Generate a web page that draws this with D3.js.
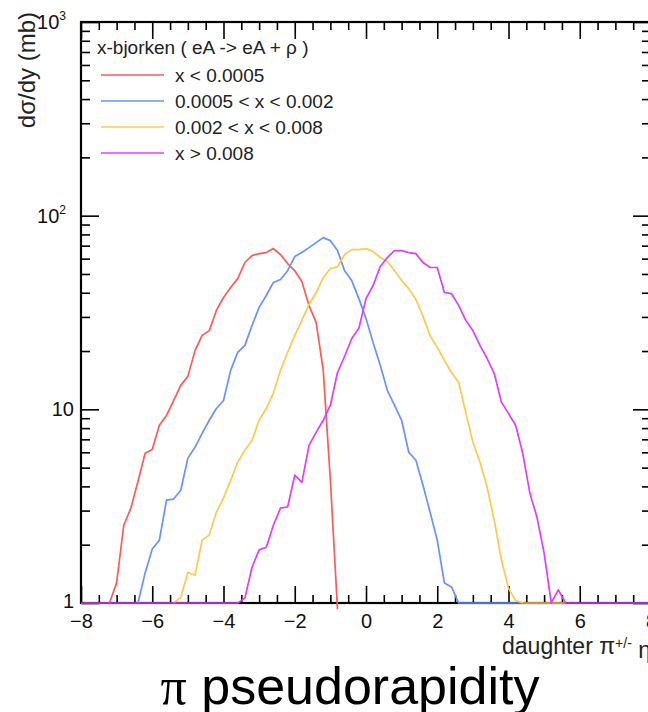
<!doctype html>
<html lang="en">
<head>
<meta charset="UTF-8">
<title>daughter pion pseudorapidity</title>
<style>
  body { margin: 0; background: #fff; }
  svg { display: block; font-family: "Liberation Sans", Arial, sans-serif; }
</style>
</head>
<body>
<svg id="chart" width="648" height="712"></svg>
<script src="https://cdn.jsdelivr.net/npm/d3@7/dist/d3.min.js"></script>
<script>
    // histogram bins, width 0.2 in eta, each series starts at its own bin
    const binWidth = 0.2;

    const labels = ["x < 0.0005", "0.0005 < x < 0.002", "0.002 < x < 0.008", "x > 0.008"];
    const colors = ["#ff5a5a", "#6a92ff", "#ffc94d", "#dc3fff"];
    const starts = [-7.2, -6.4, -5.4, -8.0];

    const redVals = [1.0, 1.27, 2.52, 3.09, 4.25, 5.93, 6.2, 8.27, 9.3, 11.1,
        13.3, 14.8, 20.1, 24.1, 25.5, 32.4, 37.8, 42.6, 47.3, 57.3,
        62.2, 63.7, 64.5, 67.6, 63, 56.6, 52, 45.7, 34.4, 28.1,
        15.9, 4.3, 0.93];
    const blueVals = [1.0, 1.43, 1.9, 2.11, 3.4, 3.44, 3.82, 5.6, 6.37, 7.52,
        8.78, 10.1, 11.1, 15.9, 19.7, 21.4, 27.1, 33.6, 38.7, 45.2,
        46.8, 52, 61.5, 64.5, 68.4, 72.6, 77, 74.3, 66, 52,
        46.2, 37.3, 29.4, 22.1, 16.9, 12.5, 10.5, 8.78, 6.0, 5.46,
        4.06, 2.94, 2.11, 1.27, 1.21, 1.0,
        1, 1, 1, 1, 1, 1, 1, 1, 1];
    const yellowVals = [1.0, 1.07, 1.44, 1.39, 2.11, 2.24, 2.94, 3.48, 4.3, 5.33,
        6.15, 6.92, 8.78, 10.1, 12.1, 15.9, 19.7, 24, 28.8, 34.8,
        40.1, 47.9, 53.3, 54.6, 63, 66.8, 66.8, 67.6, 65.2, 60.8,
        58, 52, 46.2, 42, 36.9, 30.2, 24, 20.9, 17.9, 15.5,
        13.8, 9.65, 6.76, 5.33, 3.96, 2.68, 1.67, 1.19, 1.03, 1.0,
        1, 1, 1, 1, 1, 1];
    const magentaVals = [1, 1, 1, 1, 1, 1, 1, 1, 1, 1, 1, 1, 1, 1, 1, 1, 1, 1, 1, 1, 1, 1, 1,
        1.06, 1.53, 1.88, 1.94, 2.52, 3.09, 3.13, 4.57, 4.2, 6.52,
        7.6, 8.78, 10.5, 15.5, 18.8, 23.2, 26.2, 37.3, 43.6, 54.6,
        60.8, 66, 66, 64.5, 63.7, 57.3, 54, 54, 40.1, 39.6,
        34.4, 28.8, 25.5, 21.4, 18.3, 15.3, 10.9, 9.53, 8.27, 5.93,
        3.69, 2.77, 1.81, 1.0, 1.17, 1.0,
        1, 1, 1, 1, 1, 1, 1, 1, 1, 1, 1, 1];

    const seriesVals = [redVals, blueVals, yellowVals, magentaVals];

    const xMajor = [-8, -6, -4, -2, 0, 2, 4, 6, 8];
    const xMinor = [-7.5, -7, -6.5, -5.5, -5, -4.5, -3.5, -3, -2.5, -1.5, -1, -0.5,
        0.5, 1, 1.5, 2.5, 3, 3.5, 4.5, 5, 5.5, 6.5, 7, 7.5];
    const yMajor = [1, 10, 100, 1000];
    const yMinor = [2, 3, 4, 5, 6, 7, 8, 9, 20, 30, 40, 50, 60, 70, 80, 90,
        200, 300, 400, 500, 600, 700, 800, 900];

    let svg = d3.select("#chart"),
        margin = {top: 22, right: -3, bottom: 109, left: 81},
        width = +svg.attr("width"),
        height = +svg.attr("height");

    let x = d3.scaleLinear()
        .domain([-8, 8])
        .range([margin.left, width - margin.right]);

    let y = d3.scaleLog()
        .domain([1, 1000])
        .range([height - margin.bottom, margin.top]);

    const x0 = x.range()[0], x1 = x.range()[1];
    const y0 = y.range()[0], y1 = y.range()[1];

    function styleAxis(g) {
        g.select(".domain").remove();
        g.selectAll(".tick line").attr("stroke", "#000").attr("stroke-width", 1.6);
    }

    // bottom axis with labels
    svg.append("g")
        .attr("transform", "translate(0," + y0 + ")")
        .call(d3.axisBottom(x).tickValues(xMajor).tickSizeInner(-17).tickSizeOuter(0).tickPadding(11))
        .call(styleAxis)
        .attr("font-size", "20px")
        .attr("font-family", "Liberation Sans, Arial, sans-serif")
        .selectAll("text").attr("fill", "#111");
    svg.append("g")
        .attr("transform", "translate(0," + y0 + ")")
        .call(d3.axisBottom(x).tickValues(xMinor).tickSizeInner(-8).tickSizeOuter(0).tickFormat(""))
        .call(styleAxis);

    // top axis
    svg.append("g")
        .attr("transform", "translate(0," + y1 + ")")
        .call(d3.axisTop(x).tickValues(xMajor).tickSizeInner(-17).tickSizeOuter(0).tickFormat(""))
        .call(styleAxis);
    svg.append("g")
        .attr("transform", "translate(0," + y1 + ")")
        .call(d3.axisTop(x).tickValues(xMinor).tickSizeInner(-8).tickSizeOuter(0).tickFormat(""))
        .call(styleAxis);

    // left axis with labels
    let leftAxis = svg.append("g")
        .attr("transform", "translate(" + x0 + ",0)")
        .call(d3.axisLeft(y).tickValues(yMajor).tickSizeInner(-18).tickSizeOuter(0).tickPadding(7)
            .tickFormat(d => d < 100 ? String(d) : "10"))
        .call(styleAxis)
        .attr("font-size", "20px")
        .attr("font-family", "Liberation Sans, Arial, sans-serif");
    leftAxis.selectAll("text").attr("fill", "#111");
    leftAxis.selectAll(".tick").filter(d => d === 1).select("text").attr("dy", "0.2em");
    leftAxis.selectAll(".tick").filter(d => d >= 100).select("text")
        .attr("dx", "-0.4em")
        .append("tspan")
        .attr("dy", "-0.75em")
        .attr("font-size", "12px")
        .text(d => Math.round(Math.log10(d)));
    svg.append("g")
        .attr("transform", "translate(" + x0 + ",0)")
        .call(d3.axisLeft(y).tickValues(yMinor).tickSizeInner(-9).tickSizeOuter(0).tickFormat(""))
        .call(styleAxis);

    // right axis
    svg.append("g")
        .attr("transform", "translate(" + x1 + ",0)")
        .call(d3.axisRight(y).tickValues(yMajor).tickSizeInner(-18).tickSizeOuter(0).tickFormat(""))
        .call(styleAxis);
    svg.append("g")
        .attr("transform", "translate(" + x1 + ",0)")
        .call(d3.axisRight(y).tickValues(yMinor).tickSizeInner(-9).tickSizeOuter(0).tickFormat(""))
        .call(styleAxis);

    // frame
    svg.append("rect")
        .attr("x", x0).attr("y", y1)
        .attr("width", x1 - x0).attr("height", y0 - y1)
        .attr("fill", "none")
        .attr("stroke", "#000")
        .attr("stroke-width", 2.2);

    // histograms
    let line = d3.line()
        .x(d => x(d.eta))
        .y(d => y(d.v));

    seriesVals.forEach(function (vals, i) {
        let pts = vals.map((v, j) => ({eta: starts[i] + j * binWidth, v: v}));
        svg.append("path")
            .datum(pts)
            .attr("fill", "none")
            .attr("stroke", colors[i])
            .attr("stroke-width", 1.7)
            .attr("stroke-linejoin", "round")
            .attr("d", line);
    });

    // legend
    let legend = svg.append("g").attr("font-size", "19px").attr("fill", "#222");
    legend.append("text")
        .attr("x", 97).attr("y", 54)
        .text("x-bjorken ( eA -> eA + \u03c1 )");
    labels.forEach(function (lab, i) {
        let ly = 75 + i * 26;
        legend.append("line")
            .attr("x1", 101).attr("x2", 164)
            .attr("y1", ly).attr("y2", ly)
            .attr("stroke", colors[i])
            .attr("stroke-width", 1.7);
        legend.append("text")
            .attr("x", 175).attr("y", ly)
            .attr("dy", "0.35em")
            .text(lab);
    });

    // axis titles
    svg.append("text")
        .attr("transform", "translate(35,12) rotate(-90)")
        .attr("text-anchor", "end")
        .attr("font-size", "24px")
        .attr("fill", "#222")
        .text("d\u03c3/dy (mb)");

    let xTitle = svg.append("text")
        .attr("x", x1).attr("y", 654)
        .attr("text-anchor", "end")
        .attr("font-size", "23px")
        .attr("fill", "#222");
    xTitle.append("tspan").text("daughter \u03c0");
    xTitle.append("tspan").attr("dy", "-0.45em").attr("font-size", "14px").text("+/-");
    xTitle.append("tspan").attr("dy", "0.45em").text(" \u03b7");

    // caption below the plot
    let caption = svg.append("text")
        .attr("x", 350).attr("y", 704)
        .attr("text-anchor", "middle")
        .attr("font-size", "52px")
        .attr("fill", "#000");
    caption.append("tspan").attr("font-family", "Liberation Serif, serif").text("\u03c0");
    caption.append("tspan").text(" pseudorapidity");
</script>
</body>
</html>
